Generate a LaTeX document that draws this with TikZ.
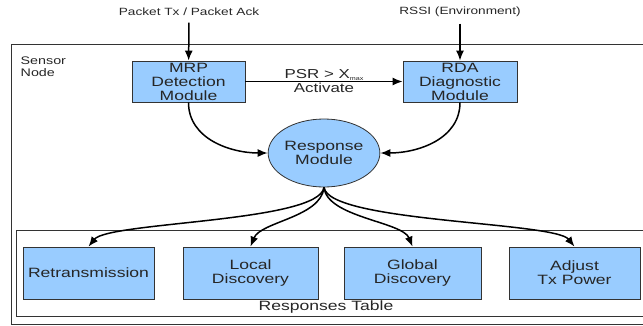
\documentclass[tikz,border=0pt]{standalone}
\usepackage{fontspec}
\setmainfont{Liberation Sans}[FakeStretch=1.3]
\usepackage{tikz}
\usetikzlibrary{arrows.meta, positioning, shapes}

\definecolor{boxblue}{HTML}{99CCFF}
\definecolor{edgegray}{HTML}{333333}

\tikzset{
	module/.style={draw=edgegray, line width=0.8pt, fill=boxblue, inner sep=0pt, align=center, text=black!85, font=\fontsize{13.5}{14}\selectfont},
	frame/.style={draw=edgegray, line width=0.8pt, inner sep=0pt, anchor=north west},
	lbl/.style={inner sep=1.5pt, align=center, text=black!85, font=\fontsize{10.5}{12}\selectfont},
	flow/.style={draw, line width=1.5pt, -{Latex[length=10pt, width=8pt]}}
}

\begin{document}
\begin{tikzpicture}[x=1pt, y=-1pt]

\clip (0,0) rectangle (643,325);

\node [frame, minimum width=660, minimum height=279.5] (10) at (11,44) {};
\node [lbl, anchor=north west, align=left, font=\fontsize{11}{12}\selectfont] (13) at (19,55) {Sensor\\Node};

\node [lbl] (8) at (189,12) {Packet Tx / Packet Ack};
\node [lbl] (9) at (460,12) {RSSI (Environment)};

\node [module, minimum width=113, minimum height=41] (1) at (188.5,81.5) {MRP\\Detection\\Module};
\node [module, minimum width=114, minimum height=41] (2) at (460,81.5) {RDA\\Diagnostic\\Module};

\node [module, ellipse, minimum width=92, minimum height=68] (3) at (324,153) {Response\\Module};

\node [frame, minimum width=650, minimum height=86] (11) at (16,230) {};
\node [lbl, font=\fontsize{13.5}{14}\selectfont] (12) at (326,307.5) {Responses Table};

\node [module, minimum width=131, minimum height=52] (4) at (88.5,273) {Retransmission};
\node [module, minimum width=135, minimum height=52] (5) at (250.5,273) {Local\\Discovery};
\node [module, minimum width=137, minimum height=52] (6) at (412.5,273) {Global\\Discovery};
\node [module, minimum width=131, minimum height=52] (7) at (574.5,273) {Adjust\\Tx Power};

\path [flow] (8) edge [shorten <=5pt] (1);
\path [flow] (9) edge [shorten <=5pt] (2);

\path [flow] (1) edge
	node [lbl, above, inner sep=0.5pt, font=\fontsize{13}{14}\selectfont] {PSR > X\raisebox{-2pt}{\fontsize{5.5}{6}\selectfont max}}
	node [lbl, below, inner sep=0.5pt, font=\fontsize{13}{14}\selectfont] {Activate} (2);

\draw [flow] (1.south) to [out=-90, in=180] (3.west);
\draw [flow] (2.south) to [out=-90, in=0] (3.east);

\draw [flow] (3.south) .. controls +(-5,35) and +(20,-25) .. (4.north);
\draw [flow] (3.south) .. controls +(-3,30) and +(10,-25) .. (5.north);
\draw [flow] (3.south) .. controls +(3,30) and +(-10,-25) .. (6.north);
\draw [flow] (3.south) .. controls +(5,35) and +(-20,-25) .. (7.north);

\end{tikzpicture}
\end{document}
